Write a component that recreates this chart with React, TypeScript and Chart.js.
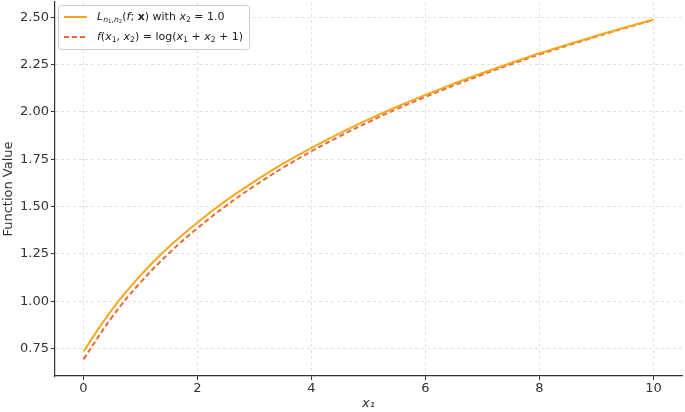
import React, { useEffect, useRef } from "react";
import { Chart, registerables } from "chart.js";

Chart.register(...registerables);

const xValues = [0, 0.5, 1, 1.5, 2, 2.5, 3, 3.5, 4, 4.5, 5, 5.5, 6, 6.5, 7, 7.5, 8, 8.5, 9, 9.5, 10];
const approxValues = [0.735, 0.956, 1.136, 1.287, 1.416, 1.531, 1.633, 1.726, 1.81, 1.888, 1.96, 2.027, 2.089, 2.149, 2.205, 2.258, 2.309, 2.356, 2.402, 2.445, 2.488];
const exactValues = [0.693, 0.916, 1.099, 1.253, 1.386, 1.504, 1.609, 1.705, 1.792, 1.872, 1.946, 2.015, 2.079, 2.14, 2.197, 2.251, 2.303, 2.351, 2.398, 2.442, 2.485];
const xTicks = [0, 2, 4, 6, 8, 10];
const yTicks = [0.75, 1.0, 1.25, 1.5, 1.75, 2.0, 2.25, 2.5];

const SOLID = "#f6a81c";
const DASHED = "#e8693b";
const FONT = "'DejaVu Sans', sans-serif";

type Run = { t: string; s?: "i" | "b" | "n"; size?: number; dy?: number };

const legendRows: { color: string; dash: number[]; runs: Run[] }[] = [
  {
    color: SOLID,
    dash: [],
    runs: [
      { t: "L", s: "i" },
      { t: "n", s: "i", size: 0.7, dy: 3 },
      { t: "1", size: 0.5, dy: 5 },
      { t: ",", size: 0.7, dy: 3 },
      { t: "n", s: "i", size: 0.7, dy: 3 },
      { t: "2", size: 0.5, dy: 5 },
      { t: "(" },
      { t: "f", s: "i" },
      { t: "; " },
      { t: "x", s: "b" },
      { t: ")" },
      { t: " with " },
      { t: "x", s: "i" },
      { t: "2", size: 0.7, dy: 3 },
      { t: " = 1.0" },
    ],
  },
  {
    color: DASHED,
    dash: [5, 3],
    runs: [
      { t: "f", s: "i" },
      { t: "(" },
      { t: "x", s: "i" },
      { t: "1", size: 0.7, dy: 3 },
      { t: ", " },
      { t: "x", s: "i" },
      { t: "2", size: 0.7, dy: 3 },
      { t: ") = log(" },
      { t: "x", s: "i" },
      { t: "1", size: 0.7, dy: 3 },
      { t: " + " },
      { t: "x", s: "i" },
      { t: "2", size: 0.7, dy: 3 },
      { t: " + 1)" },
    ],
  },
];

function runFont(r: Run, base: number) {
  const size = base * (r.size ?? 1);
  const style = r.s === "i" ? "italic " : "";
  const weight = r.s === "b" ? "bold " : "";
  return `${style}${weight}${size}px ${FONT}`;
}

const mathLegend = {
  id: "mathLegend",
  afterDraw(chart: any) {
    const ctx = chart.ctx as CanvasRenderingContext2D;
    const base = 11;
    const boxX = 58;
    const boxY = 5;
    const rowY = [17, 37];
    const handleX0 = 64;
    const handleX1 = 87;
    const textX = 97;
    ctx.save();
    let maxW = 0;
    for (const row of legendRows) {
      let w = 0;
      for (const r of row.runs) {
        ctx.font = runFont(r, base);
        w += ctx.measureText(r.t).width;
      }
      maxW = Math.max(maxW, w);
    }
    const boxW = textX + maxW + 6 - boxX;
    const boxH = 44;
    ctx.fillStyle = "rgba(255,255,255,0.85)";
    ctx.strokeStyle = "#cccccc";
    ctx.lineWidth = 1;
    ctx.beginPath();
    (ctx as any).roundRect(boxX + 0.5, boxY + 0.5, boxW, boxH, 3);
    ctx.fill();
    ctx.stroke();
    legendRows.forEach((row, i) => {
      const y = rowY[i];
      ctx.strokeStyle = row.color;
      ctx.lineWidth = 2;
      ctx.setLineDash(row.dash);
      ctx.beginPath();
      ctx.moveTo(handleX0, y);
      ctx.lineTo(handleX1, y);
      ctx.stroke();
      ctx.setLineDash([]);
      let x = textX;
      ctx.fillStyle = "#222222";
      ctx.textBaseline = "middle";
      ctx.textAlign = "left";
      for (const r of row.runs) {
        ctx.font = runFont(r, base);
        ctx.fillText(r.t, x, y + (r.dy ?? 0));
        x += ctx.measureText(r.t).width;
      }
    });
    ctx.restore();
  },
};

export default function App() {
  const ref = useRef<HTMLCanvasElement>(null);
  useEffect(() => {
    if (!ref.current) return;
    const chart = new Chart(ref.current, {
      type: "line",
      data: {
        datasets: [
          {
            label: "approx",
            data: xValues.map((x, i) => ({ x, y: approxValues[i] })),
            borderColor: SOLID,
            borderWidth: 2,
            pointRadius: 0,
            tension: 0.4,
            fill: false,
          },
          {
            label: "exact",
            data: xValues.map((x, i) => ({ x, y: exactValues[i] })),
            borderColor: DASHED,
            borderWidth: 2,
            borderDash: [5, 3],
            pointRadius: 0,
            tension: 0.4,
            fill: false,
          },
        ],
      },
      options: {
        animation: false,
        responsive: false,
        layout: { padding: { left: 0, right: 3, top: 2, bottom: 0 } },
        plugins: { legend: { display: false }, tooltip: { enabled: false } },
        scales: {
          x: {
            type: "linear",
            min: -0.5,
            max: 10.5,
            afterBuildTicks: (s: any) => {
              s.ticks = xTicks.map((v) => ({ value: v }));
            },
            afterFit: (s: any) => {
              s.height = 36;
              s.paddingLeft = 0;
              s.paddingRight = 0;
            },
            ticks: {
              callback: (v: any) => String(v),
              font: { family: FONT, size: 13 },
              color: "#333333",
              padding: 1,
              maxRotation: 0,
            },
            grid: {
              color: "#d6d6d6",
              lineWidth: 0.8,
              tickColor: "#333333",
              tickLength: 4,
              tickWidth: 1,
            },
            border: { display: true, color: "#333333", width: 1.2, dash: [3, 3] },
            title: {
              display: true,
              text: "x₁",
              font: { family: FONT, size: 13, style: "italic" },
              color: "#333333",
              padding: { top: 0, bottom: 1 },
            },
          },
          y: {
            type: "linear",
            min: 0.605,
            max: 2.58,
            afterBuildTicks: (s: any) => {
              s.ticks = yTicks.map((v) => ({ value: v }));
            },
            afterFit: (s: any) => {
              s.width = 55;
              s.paddingTop = 0;
              s.paddingBottom = 0;
            },
            ticks: {
              callback: (v: any) => Number(v).toFixed(2),
              font: { family: FONT, size: 13 },
              color: "#333333",
              padding: 2,
            },
            grid: {
              color: "#d6d6d6",
              lineWidth: 0.8,
              tickColor: "#333333",
              tickLength: 4,
              tickWidth: 1,
            },
            border: { display: true, color: "#333333", width: 1.2, dash: [3, 3] },
            title: {
              display: true,
              text: "Function Value",
              font: { family: FONT, size: 13 },
              color: "#333333",
              padding: { top: 1, bottom: 0 },
            },
          },
        },
      },
      plugins: [mathLegend],
    } as any);
    return () => chart.destroy();
  }, []);
  return (
    <div style={{ position: "fixed", left: 0, top: 0, width: 685, height: 412, background: "#fff" }}>
      <canvas ref={ref} width={685} height={412} style={{ width: 685, height: 412, display: "block" }} />
    </div>
  );
}
